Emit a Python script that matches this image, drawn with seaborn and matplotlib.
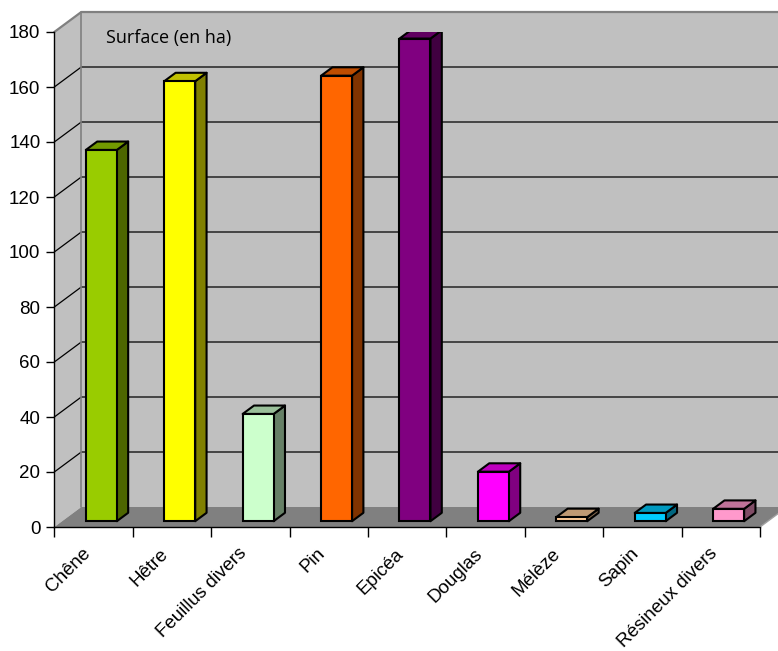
import matplotlib
matplotlib.use("Agg")
import matplotlib.pyplot as plt
import seaborn as sns
import pandas as pd
from matplotlib.patches import Polygon
from matplotlib.transforms import ScaledTranslation

especes = ["Chêne", "Hêtre", "Feuillus divers", "Pin", "Epicéa",
           "Douglas", "Mélèze", "Sapin", "Résineux divers"]
surfaces = [135, 160, 39, 162, 175.5, 18, 1.5, 3, 4.5]
couleurs = ["#99CC00", "#FFFF00", "#CCFFCC", "#FF6600", "#800080",
            "#FF00FF", "#FFCC99", "#00CCFF", "#FF99CC"]
graduations = [0, 20, 40, 60, 80, 100, 120, 140, 160, 180]
titre = "Surface (en ha)"

sns.set_theme(style="white")
plt.rcParams["font.family"] = ["Liberation Sans", "DejaVu Sans"]

W, H = 778, 651
fig = plt.figure(figsize=(W / 100, H / 100), dpi=100)
fig.patch.set_facecolor("white")

# front plane of the 3D box, in pixels
px_left, px_right = 54.3, 760.0
px_bottom, px_top = 527.0, 32.0
ax = fig.add_axes([px_left / W, 1 - px_bottom / H,
                   (px_right - px_left) / W, (px_bottom - px_top) / H])
ax.set_xlim(-0.5, 8.5)
ax.set_ylim(0, 180)
ax.patch.set_visible(False)

sx = (px_right - px_left) / 9.0      # pixels per category
sy = (px_bottom - px_top) / 180.0    # pixels per hectare
DX = 27 / sx                          # full depth of the box, data units
DY = 20 / sy

df = pd.DataFrame({"espece": especes, "surface": surfaces})
sns.barplot(data=df, x="espece", y="surface", hue="espece", order=especes,
            hue_order=especes, palette=couleurs, width=0.395, legend=False,
            edgecolor="black", linewidth=1.5, saturation=1, ax=ax, zorder=3)
bars = list(ax.patches)


def darken(c, k):
    r, g, b = matplotlib.colors.to_rgb(c)
    return (r * k, g * k, b * k)


# walls and floor
wall = "#C0C0C0"
side_wall = Polygon([(-0.5, 0), (-0.5, 180), (-0.5 + DX, 180 + DY), (-0.5 + DX, DY)],
                    closed=True, facecolor=wall, edgecolor="none", zorder=0.1, clip_on=False)
back_wall = Polygon([(-0.5 + DX, DY), (-0.5 + DX, 180 + DY), (9.5, 180 + DY), (9.5, DY)],
                    closed=True, facecolor=wall, edgecolor="none", zorder=0.1, clip_on=False)
floor = Polygon([(-0.5, 0), (8.5, 0), (8.5 + DX, DY), (-0.5 + DX, DY)],
                closed=True, facecolor="#808080", edgecolor="none", zorder=0.2, clip_on=False)
for p in (side_wall, back_wall, floor):
    ax.add_patch(p)

for v in graduations[1:-1]:
    ax.plot([-0.5, -0.5 + DX, 9.5], [v, v + DY, v + DY], color="black",
            lw=0.9, zorder=0.3, clip_on=False)
ax.plot([-0.5, -0.5 + DX, 9.5], [180, 180 + DY, 180 + DY], color="#808080",
        lw=1.6, zorder=0.3, clip_on=False)
ax.plot([-0.5 + DX, -0.5 + DX], [DY, 180 + DY], color="#808080",
        lw=1.2, zorder=0.3, clip_on=False)
ax.plot([8.5, 8.5 + DX], [0, DY], color="#A0A0A0", lw=1.0, zorder=0.3, clip_on=False)

# 3D bars: move front faces into the box, then add top and side faces
f0, fd = 0.29, 0.42
for bar, col in zip(bars, couleurs):
    bar.set_x(bar.get_x() + f0 * DX)
    bar.set_y(bar.get_y() + f0 * DY)
    xl = bar.get_x()
    xr = xl + bar.get_width()
    yb = bar.get_y()
    yt = yb + bar.get_height()
    ddx, ddy = fd * DX, fd * DY
    side = Polygon([(xr, yb), (xr + ddx, yb + ddy), (xr + ddx, yt + ddy), (xr, yt)],
                   closed=True, facecolor=darken(col, 0.5), edgecolor="black",
                   lw=1.5, joinstyle="round", zorder=2.9)
    top = Polygon([(xl, yt), (xr, yt), (xr + ddx, yt + ddy), (xl + ddx, yt + ddy)],
                  closed=True, facecolor=darken(col, 0.75), edgecolor="black",
                  lw=1.5, joinstyle="round", zorder=2.9)
    ax.add_patch(side)
    ax.add_patch(top)

# axes
for s in ("top", "right"):
    ax.spines[s].set_visible(False)
for s in ("left", "bottom"):
    ax.spines[s].set_color("black")
    ax.spines[s].set_linewidth(1.0)
    ax.spines[s].set_zorder(4)

ax.set_yticks(graduations)
ax.set_yticklabels([str(v) for v in graduations])
ax.tick_params(axis="y", direction="out", length=6, width=1, color="black",
               labelsize=13.5, pad=4, left=True, labelcolor="black")
ax.set_xticks([i - 0.5 for i in range(10)], minor=True)
ax.set_xticks(range(len(especes)))
ax.set_xticklabels(especes, rotation=45, ha="right", rotation_mode="anchor")
ax.tick_params(axis="x", which="major", length=0, labelsize=13.5, pad=13,
               labelcolor="black")
ax.tick_params(axis="x", which="minor", direction="out", length=7, width=1,
               color="black", bottom=True)
for lab in ax.get_xticklabels():
    lab.set_transform(lab.get_transform() + ScaledTranslation(-12 / 100, 0, fig.dpi_scale_trans))
ax.set_xlabel("")
ax.set_ylabel("")

fig.text(106 / W, 1 - 38 / H, titre, ha="left", va="center", fontsize=13,
         family=["Open Sans", "DejaVu Sans"], color="black")

fig.savefig("out.png", dpi=100)
